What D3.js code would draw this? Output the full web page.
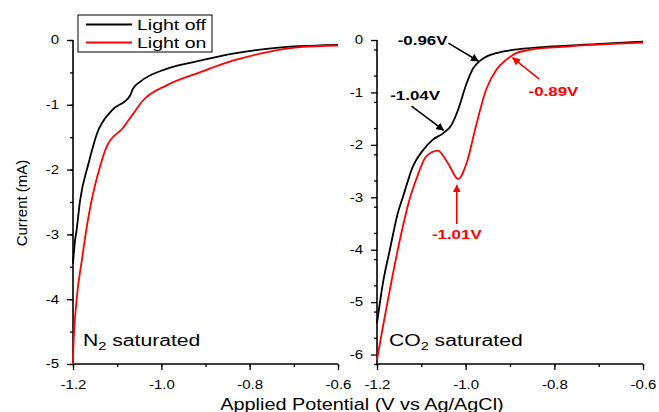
<!DOCTYPE html>
<html>
<head>
<meta charset="utf-8">
<script src="https://cdn.jsdelivr.net/npm/d3@7"></script>
<style>
  body { margin: 0; background: #fff; }
  text { font-family: "Liberation Sans", Arial, sans-serif; }
</style>
</head>
<body>
<div id="chart"></div>
<script>
const width = 659, height = 412;

// N2 saturated panel (V, mA)
const n2Off = [[-1.2,-3.45],[-1.1955,-3.1],[-1.192,-2.94],[-1.184,-2.48],[-1.165,-1.91],[-1.146,-1.45],
  [-1.1125,-1.09],[-1.071,-0.86],[-1.064,-0.75],[-1.049,-0.65],[-0.988,-0.445],[-0.913,-0.32],
  [-0.838,-0.21],[-0.762,-0.136],[-0.687,-0.095],[-0.6,-0.074]];
const n2On = [[-1.2,-5.0],[-1.1993,-4.79],[-1.192,-4.02],[-1.18,-3.4],[-1.169,-2.89],[-1.158,-2.48],
  [-1.139,-1.96],[-1.124,-1.65],[-1.086,-1.35],[-1.064,-1.14],[-1.041,-0.93],[-0.988,-0.70],
  [-0.913,-0.50],[-0.838,-0.32],[-0.762,-0.19],[-0.687,-0.11],[-0.6,-0.085]];

// CO2 saturated panel (V, mA)
const co2Off = [[-1.2,-5.4],[-1.1865,-4.63],[-1.171,-4.0],[-1.153,-3.3],[-1.141,-2.98],[-1.119,-2.41],
  [-1.096,-2.10],[-1.074,-1.90],[-1.051,-1.78],[-1.032,-1.62],[-1.017,-1.33],[-0.998,-0.83],
  [-0.983,-0.54],[-0.965,-0.38],[-0.931,-0.25],[-0.894,-0.19],[-0.819,-0.13],[-0.706,-0.08],[-0.6,-0.03]];
const co2On = [[-1.2,-6.1],[-1.1865,-5.46],[-1.168,-4.63],[-1.145,-3.68],[-1.127,-3.05],[-1.112,-2.67],
  [-1.089,-2.22],[-1.063,-2.11],[-1.04,-2.35],[-1.017,-2.65],[-0.998,-2.35],[-0.977,-1.65],
  [-0.954,-0.95],[-0.931,-0.57],[-0.909,-0.38],[-0.886,-0.25],[-0.856,-0.19],[-0.781,-0.13],[-0.6,-0.05]];

const xTicks = [-1.2, -1.0, -0.8, -0.6];
const n2YTicks = [0, -1, -2, -3, -4, -5];
const co2YTicks = [0, -1, -2, -3, -4, -5, -6];
const seriesNames = ["Light off", "Light on"];
const seriesColors = ["#000000", "#ff0000"];

// annotations: label, label position, arrow from, arrow to (data coords)
const notes = [
  {label: "-0.96V", color: "#000", at: [-1.097, -0.095], from: [-1.039, -0.06], to: [-0.9715, -0.40]},
  {label: "-1.04V", color: "#000", at: [-1.114, -1.145], from: [-1.122, -1.26], to: [-1.05, -1.72]},
  {label: "-0.89V", color: "#f00", at: [-0.802, -1.07], from: [-0.834, -0.745], to: [-0.894, -0.34]},
  {label: "-1.01V", color: "#f00", at: [-1.02, -3.8], from: [-1.02, -3.51], to: [-1.02, -2.77]}
];

// the reference text is drawn wide, so stretch horizontal text
const stretch = (sel, k) => {
  sel.each(function() {
    const w = this.getComputedTextLength();
    d3.select(this).attr("textLength", w * k).attr("lengthAdjust", "spacingAndGlyphs");
  });
};

const svg = d3.select("#chart").append("svg")
  .attr("width", width).attr("height", height);

const defs = svg.append("defs");
["#000", "#f00"].forEach((c, i) => {
  defs.append("marker")
    .attr("id", "arr" + i)
    .attr("viewBox", "0 0 10 10")
    .attr("refX", 9).attr("refY", 5)
    .attr("markerWidth", 5).attr("markerHeight", 5)
    .attr("orient", "auto")
    .append("path").attr("d", "M0,0L10,5L0,10z").attr("fill", c);
});

const drawPanel = (opts) => {
  const x = d3.scaleLinear().domain([-1.2, -0.6]).range(opts.xr);
  const y = d3.scaleLinear().domain(opts.yd).range([opts.bottom, 40]);
  const g = svg.append("g");

  // minor ticks
  const xMinor = d3.axisBottom(x).tickValues(d3.range(-1.2, -0.59, 0.1)).tickSize(3).tickFormat("");
  const yMinor = d3.axisLeft(y).tickValues(d3.range(opts.yd[0], 0.01, 0.5)).tickSize(3).tickFormat("");
  g.append("g").attr("transform", "translate(0," + opts.bottom + ")").call(xMinor);
  g.append("g").attr("transform", "translate(" + opts.xr[0] + ",0)").call(yMinor);

  const xAxis = d3.axisBottom(x).tickValues(xTicks).tickSize(6).tickPadding(10)
    .tickFormat(d3.format(".1f"));
  const yAxis = d3.axisLeft(y).tickValues(opts.yTicks).tickSize(6).tickPadding(8)
    .tickFormat(d => d);
  g.append("g").attr("transform", "translate(0," + opts.bottom + ")").call(xAxis);
  g.append("g").attr("transform", "translate(" + opts.xr[0] + ",0)").call(yAxis);

  g.selectAll(".domain").remove();
  g.selectAll(".tick line").attr("stroke-width", 1.3);
  g.selectAll(".tick text").attr("font-size", 12).attr("fill", "#000")
    .text(function() { return d3.select(this).text().replace("−", "-"); });
  stretch(g.selectAll(".tick text"), 1.25);

  // axis lines
  g.append("line").attr("x1", opts.xr[0]).attr("x2", opts.xr[1])
    .attr("y1", opts.bottom).attr("y2", opts.bottom).attr("stroke", "#000").attr("stroke-width", 1.6);
  g.append("line").attr("x1", opts.xr[0]).attr("x2", opts.xr[0])
    .attr("y1", 40).attr("y2", opts.bottom).attr("stroke", "#000").attr("stroke-width", 1.6);

  const line = d3.line().x(d => x(d[0])).y(d => y(d[1])).curve(d3.curveMonotoneX);
  opts.series.forEach((s, i) => {
    g.append("path").datum(s).attr("d", line)
      .attr("fill", "none").attr("stroke", seriesColors[i]).attr("stroke-width", 1.8);
  });

  const t = g.append("text").attr("x", opts.labelX).attr("y", 345.5)
    .attr("font-size", 16).attr("fill", "#000");
  t.append("tspan").text(opts.label[0]);
  t.append("tspan").attr("font-size", 11).attr("dy", 4).text(opts.label[1]);
  t.append("tspan").attr("dy", -4).text(opts.label[2]);
  stretch(t, 1.32);

  return {x, y, g};
};

drawPanel({xr: [73, 338], yd: [-5, 0], bottom: 364, yTicks: n2YTicks,
  series: [n2Off, n2On], labelX: 83, label: ["N", "2", " saturated"]});
const right = drawPanel({xr: [377, 643], yd: [-6.18, 0], bottom: 364, yTicks: co2YTicks,
  series: [co2Off, co2On], labelX: 389, label: ["CO", "2", " saturated"]});

notes.forEach(n => {
  right.g.append("line")
    .attr("x1", right.x(n.from[0])).attr("y1", right.y(n.from[1]))
    .attr("x2", right.x(n.to[0])).attr("y2", right.y(n.to[1]))
    .attr("stroke", n.color).attr("stroke-width", 1.6)
    .attr("marker-end", n.color === "#000" ? "url(#arr0)" : "url(#arr1)");
  const t = right.g.append("text")
    .attr("x", right.x(n.at[0])).attr("y", right.y(n.at[1]))
    .attr("text-anchor", "middle")
    .attr("font-size", 13).attr("font-weight", "bold").attr("fill", n.color)
    .text(n.label);
  stretch(t, 1.3);
});

// legend
const legend = svg.append("g");
legend.append("rect").attr("x", 78).attr("y", 15).attr("width", 134).attr("height", 37)
  .attr("fill", "#fff").attr("stroke", "#000").attr("stroke-width", 1);
seriesNames.forEach((name, i) => {
  const yy = 24.5 + i * 18;
  legend.append("line").attr("x1", 86).attr("x2", 132).attr("y1", yy).attr("y2", yy)
    .attr("stroke", seriesColors[i]).attr("stroke-width", 1.8);
  const t = legend.append("text").attr("x", 137).attr("y", yy + 5.5).attr("font-size", 15)
    .attr("fill", "#000").text(name);
  stretch(t, 1.3);
});

// axis titles
svg.append("text").attr("transform", "translate(27,203) rotate(-90)")
  .attr("text-anchor", "middle").attr("font-size", 15).text("Current (mA)");
const xt = svg.append("text").attr("x", 362).attr("y", 410)
  .attr("text-anchor", "middle").attr("font-size", 16).text("Applied Potential (V vs Ag/AgCl)");
stretch(xt, 1.24);
</script>
</body>
</html>
